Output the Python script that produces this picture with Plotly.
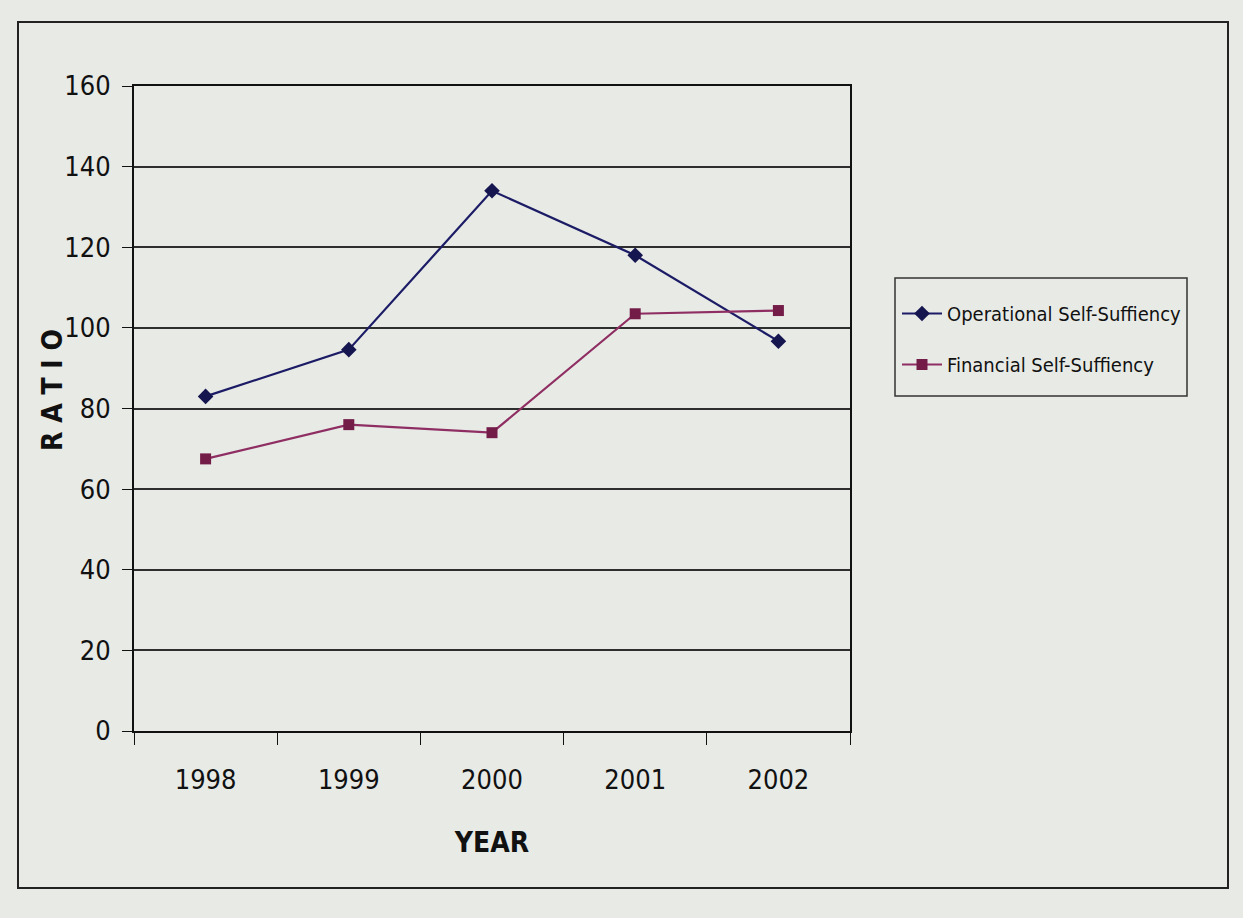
import plotly.graph_objects as go

years = ["1998", "1999", "2000", "2001", "2002"]
operational = [83, 94.6, 134, 118, 96.7]
financial = [67.5, 76, 74, 103.5, 104.3]
y_ticks = [0, 20, 40, 60, 80, 100, 120, 140, 160]

FONT = "DejaVu Sans Condensed, Liberation Sans Narrow, Arial Narrow, Liberation Sans, sans-serif"
BG = "#e8eae6"

L, R, T, B = 134, 850, 86, 731
W, H = 1243, 918

def px_x(x):
    return (x - L) / (R - L)

def px_y(y):
    return (B - y) / (B - T)

fig = go.Figure()
fig.add_trace(go.Scatter(
    x=years, y=operational, name="Operational Self-Suffiency",
    mode="lines+markers", legendgroup="a",
    line=dict(color="#1c1c66", width=2.2),
    marker=dict(symbol="diamond", size=12, color="#15154f"),
))
fig.add_trace(go.Scatter(
    x=years, y=financial, name="Financial Self-Suffiency",
    mode="lines+markers", legendgroup="b",
    line=dict(color="#8e2e62", width=2.2),
    marker=dict(symbol="square", size=11, color="#741c48"),
))

fig.update_layout(
    width=W, height=H,
    margin=dict(l=L, r=W - R, t=T, b=H - B, pad=0),
    paper_bgcolor=BG, plot_bgcolor=BG,
    font=dict(family=FONT, color="#111111", size=22),
    showlegend=True,
    legend=dict(
        x=px_x(897), y=px_y(294), xanchor="left", yanchor="top",
        bgcolor="rgba(0,0,0,0)", borderwidth=0,
        font=dict(family=FONT, size=20, color="#111111"),
        tracegroupgap=22, itemwidth=40,
    ),
    xaxis=dict(
        type="category", range=[-0.5, 4.5],
        showgrid=False, showline=True, linecolor="#111111", linewidth=2,
        ticks="outside", tickson="boundaries", ticklen=12, tickcolor="#111111",
        tickfont=dict(family=FONT, size=27),
        ticklabelstandoff=24,
        title=dict(text="<b>YEAR</b>", font=dict(family=FONT, size=28), standoff=38),
        mirror=True,
    ),
    yaxis=dict(
        range=[0, 160], tickvals=y_ticks,
        showgrid=True, gridcolor="#2e2e2e", gridwidth=1.6,
        showline=True, linecolor="#111111", linewidth=2, mirror=True,
        ticks="outside", ticklen=10, tickcolor="#111111",
        tickfont=dict(family=FONT, size=27),
        ticklabelstandoff=6,
        zeroline=False,
    ),
)

# y-axis title
fig.add_annotation(
    text="<b>R A T I O</b>", xref="paper", yref="paper",
    x=px_x(52), y=px_y(390), xanchor="center", yanchor="middle",
    textangle=-90, showarrow=False,
    font=dict(family=FONT, size=28, color="#111111"),
)

# outer chart frame
fig.add_shape(
    type="rect", xref="paper", yref="paper",
    x0=px_x(18), x1=px_x(1228), y0=px_y(888), y1=px_y(22),
    line=dict(color="#222222", width=2), fillcolor="rgba(0,0,0,0)", layer="below",
)
# legend frame
fig.add_shape(
    type="rect", xref="paper", yref="paper",
    x0=px_x(895), x1=px_x(1187), y0=px_y(396), y1=px_y(278),
    line=dict(color="#333333", width=1.5), fillcolor="rgba(0,0,0,0)", layer="below",
)

fig.write_html("out.html")
